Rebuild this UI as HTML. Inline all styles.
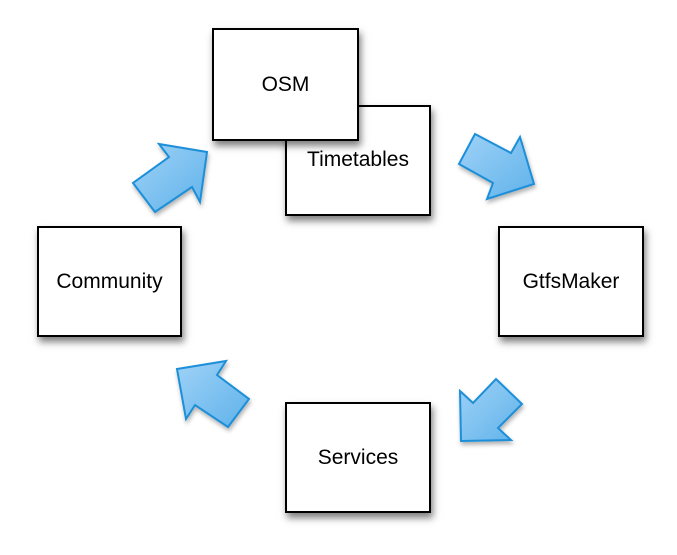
<!DOCTYPE html>
<html><head><style>
body{margin:0;width:677px;height:555px;background:#fff;overflow:hidden;position:relative;font-family:"Liberation Sans",sans-serif}
.b{position:absolute;box-sizing:border-box;border:2px solid #000;background:#fff;box-shadow:2px 5px 7px rgba(0,0,0,.5);display:flex;align-items:center;justify-content:center;font-size:21px;color:#000}
svg{position:absolute;left:0;top:0}
</style></head><body>
<svg width="677" height="555">
<defs><linearGradient id="g" x1="0" y1="0" x2="1" y2="1"><stop offset="0" stop-color="#9fd2f7"/><stop offset="1" stop-color="#5fb2ea"/></linearGradient>
<filter id="s"><feDropShadow dx="1" dy="3" stdDeviation="2" flood-opacity="0.3"/></filter></defs>
<g fill="url(#g)" stroke="#1a8fd8" stroke-width="2" stroke-linejoin="miter" filter="url(#s)">
<polygon points="159,144 207,152 200,202 192,187 155,212 133,183 169,157"/>
<polygon points="475,134 511,153 520,137 534,184 487,199 493,183 459,164"/>
<polygon points="460,391 473,403 496,379 522,404 498,428 511,440 461,441"/>
<polygon points="177,369 226,361 217,375 249,399 228,427 195,405 186,419"/>
</g>
</svg>
<div class="b" style="left:285px;top:105px;width:146px;height:111px"><span style="margin-top:-2px">Timetables</span></div>
<div class="b" style="left:212px;top:28px;width:147px;height:113px">OSM</div>
<div class="b" style="left:37px;top:226px;width:145px;height:111px">Community</div>
<div class="b" style="left:498px;top:226px;width:146px;height:111px">GtfsMaker</div>
<div class="b" style="left:285px;top:402px;width:146px;height:111px">Services</div>
</body></html>
